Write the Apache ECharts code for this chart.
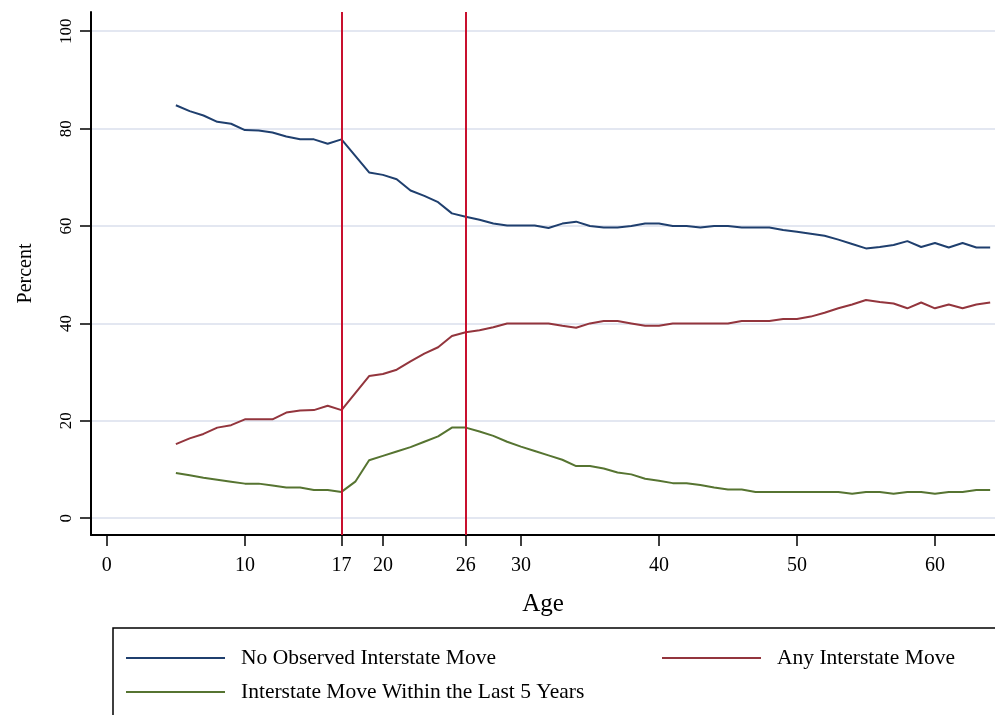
<!DOCTYPE html>
<html>
<head>
<meta charset="utf-8">
<title>Interstate moves by age</title>
<script src="https://cdn.jsdelivr.net/npm/echarts@6.0.0/dist/echarts.min.js"></script>
<style>
  html, body { margin: 0; padding: 0; background: #fff; }
  #chart { width: 995px; height: 715px; }
</style>
</head>
<body>
<div id="chart"></div>
<script>
  // ages 5..64
  const ages = [];
  for (let a = 5; a <= 64; a++) ages.push(a);

  const noMove = [84.8, 83.6, 82.7, 81.4, 81.0, 79.7, 79.6, 79.2, 78.4, 77.8,
    77.8, 76.9, 77.8, 74.4, 71.0, 70.5, 69.6, 67.3, 66.2, 64.9,
    62.6, 61.9, 61.3, 60.5, 60.1, 60.1, 60.1, 59.6, 60.5, 60.9,
    60.0, 59.7, 59.7, 60.0, 60.5, 60.5, 60.0, 60.0, 59.7, 60.0,
    60.0, 59.7, 59.7, 59.7, 59.2, 58.8, 58.4, 58.0, 57.2, 56.3,
    55.4, 55.7, 56.1, 56.9, 55.7, 56.5, 55.6, 56.5, 55.6, 55.6];
  const anyMove = [15.2, 16.4, 17.3, 18.6, 19.1, 20.3, 20.3, 20.3, 21.7, 22.1,
    22.2, 23.1, 22.2, 25.7, 29.2, 29.6, 30.5, 32.2, 33.8, 35.1,
    37.4, 38.2, 38.6, 39.2, 40.0, 40.0, 40.0, 40.0, 39.5, 39.1,
    40.0, 40.5, 40.5, 40.0, 39.5, 39.5, 40.0, 40.0, 40.0, 40.0,
    40.0, 40.5, 40.5, 40.5, 40.9, 40.9, 41.4, 42.2, 43.1, 43.9,
    44.8, 44.4, 44.1, 43.1, 44.3, 43.1, 43.9, 43.1, 43.9, 44.3];
  const recentMove = [9.3, 8.8, 8.3, 7.9, 7.5, 7.1, 7.1, 6.7, 6.3, 6.3,
    5.8, 5.8, 5.4, 7.5, 11.9, 12.8, 13.7, 14.6, 15.7, 16.8,
    18.6, 18.6, 17.8, 16.9, 15.7, 14.7, 13.8, 12.9, 12.0, 10.7,
    10.7, 10.2, 9.4, 9.0, 8.1, 7.7, 7.2, 7.2, 6.8, 6.3,
    5.9, 5.9, 5.4, 5.4, 5.4, 5.4, 5.4, 5.4, 5.4, 5.0,
    5.4, 5.4, 5.0, 5.4, 5.4, 5.0, 5.4, 5.4, 5.8, 5.8];

  const xTicks = [0, 10, 17, 20, 26, 30, 40, 50, 60];
  const yTicks = [0, 20, 40, 60, 80, 100];
  const cutoffs = [17, 26];

  const seriesNames = ['No Observed Interstate Move', 'Any Interstate Move', 'Interstate Move Within the Last 5 Years'];
  const colors = ['#1f3f6e', '#93353d', '#567431'];

  const font = 'Liberation Serif';

  function pairs(vals) {
    return ages.map((a, i) => [a, vals[i]]);
  }

  function legendItem(name, left, top) {
    return {
      data: [name],
      left: left,
      top: top,
      padding: 0,
      icon: 'rect',
      itemWidth: 99,
      itemHeight: 2,
      textStyle: { fontFamily: font, fontSize: 21.5, color: '#000', padding: [0, 0, 0, 11] },
      selectedMode: false
    };
  }

  let myChart = echarts.init(document.getElementById('chart'), null, { renderer: 'canvas' });
  myChart.setOption({
    animation: false,
    backgroundColor: '#fff',
    color: colors,
    grid: { left: 91, right: 0, top: 12, bottom: 180, outerBoundsMode: 'none', containLabel: false },
    xAxis: {
      type: 'value',
      min: -1.15,
      max: 64.35,
      name: 'Age',
      nameLocation: 'middle',
      nameGap: 57,
      nameTextStyle: { fontFamily: font, fontSize: 25, color: '#000' },
      axisLine: { show: true, onZero: false, lineStyle: { color: '#000', width: 2 } },
      axisTick: { show: true, inside: false, length: 11, customValues: xTicks, lineStyle: { color: '#000', width: 1.5 } },
      axisLabel: { customValues: xTicks, margin: 21, fontFamily: font, fontSize: 20, color: '#000' },
      splitLine: { show: false }
    },
    yAxis: {
      type: 'value',
      min: -3.45,
      max: 103.95,
      name: 'Percent',
      nameLocation: 'middle',
      nameGap: 55,
      nameRotate: 90,
      nameTextStyle: { fontFamily: font, fontSize: 20, color: '#000' },
      axisLine: { show: true, onZero: false, lineStyle: { color: '#000', width: 2 } },
      axisTick: { show: true, inside: false, length: 11, customValues: yTicks, lineStyle: { color: '#000', width: 1.5 } },
      axisLabel: { customValues: yTicks, rotate: 90, margin: 16, fontFamily: font, fontSize: 17, color: '#000' },
      splitLine: { show: true, lineStyle: { color: '#e3e7f1', width: 2 } }
    },
    legend: [
      legendItem(seriesNames[0], 126, 647),
      legendItem(seriesNames[1], 662, 647),
      legendItem(seriesNames[2], 126, 681)
    ],
    graphic: [{
      type: 'rect',
      shape: { x: 113, y: 628, width: 900, height: 100 },
      style: { fill: 'none', stroke: '#000', lineWidth: 1.5 },
      silent: true
    }],
    series: [{
      name: seriesNames[0],
      type: 'line',
      data: pairs(noMove),
      showSymbol: false,
      lineStyle: { width: 2, color: colors[0] },
      z: 3,
      markLine: {
        silent: true,
        symbol: ['none', 'none'],
        label: { show: false },
        lineStyle: { color: '#c8102e', width: 2, type: 'solid' },
        data: cutoffs.map(v => ({ xAxis: v }))
      }
    }, {
      name: seriesNames[1],
      type: 'line',
      data: pairs(anyMove),
      showSymbol: false,
      lineStyle: { width: 2, color: colors[1] },
      z: 3
    }, {
      name: seriesNames[2],
      type: 'line',
      data: pairs(recentMove),
      showSymbol: false,
      lineStyle: { width: 2, color: colors[2] },
      z: 3
    }]
  });
</script>
</body>
</html>
